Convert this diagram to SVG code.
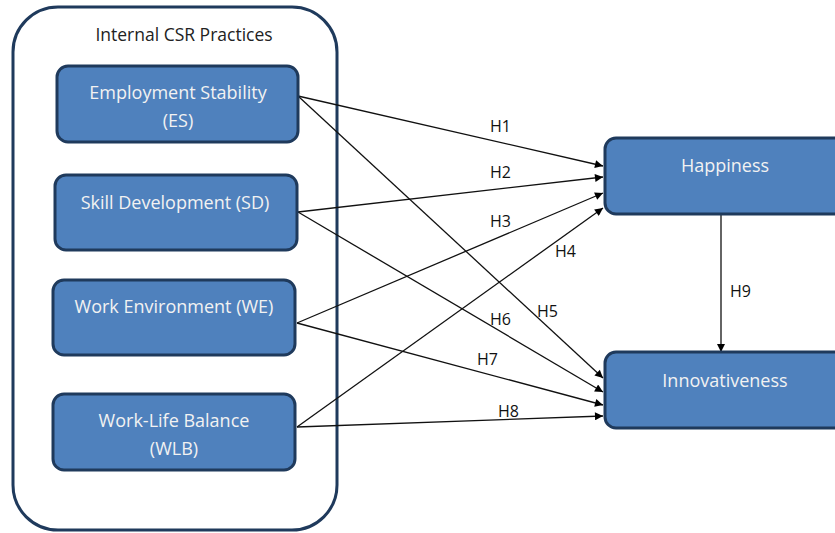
<svg xmlns="http://www.w3.org/2000/svg" width="835" height="533" viewBox="0 0 835 533">
<style>
.box{fill:#4f81bd;stroke:#1f3a5c;stroke-width:3}
.nt{font-family:"Open Sans","Liberation Sans",sans-serif;font-size:18px;fill:#f2f2f2;text-anchor:middle}
.lbl{font-family:"Open Sans","Liberation Sans",sans-serif;font-size:16px;fill:#111}
.edge{stroke:#111;stroke-width:1.3;fill:none;marker-end:url(#arr)}
</style>
<defs>
<marker id="arr" viewBox="0 0 10 10" refX="10" refY="5" markerWidth="10" markerHeight="8" markerUnits="userSpaceOnUse" orient="auto">
<path d="M0,0 L10,5 L0,10 z" fill="#000"/>
</marker>
</defs>
<rect width="835" height="533" fill="#fff"/>
<g id="container">
<rect x="13" y="7" width="324" height="523" rx="45" ry="45" fill="#fff" stroke="#1f3a5c" stroke-width="3"/>
<text x="184" y="41" font-family="Open Sans, Liberation Sans, sans-serif" font-size="17.5" fill="#222" text-anchor="middle">Internal CSR Practices</text>
</g>
<g id="connectors">
<line class="edge" x1="298" y1="96" x2="603" y2="166"/>
<line class="edge" x1="298" y1="96" x2="603" y2="378"/>
<line class="edge" x1="298" y1="212" x2="603" y2="177"/>
<line class="edge" x1="298" y1="212" x2="603" y2="392"/>
<line class="edge" x1="297" y1="323" x2="603" y2="193"/>
<line class="edge" x1="297" y1="323" x2="603" y2="405"/>
<line class="edge" x1="297" y1="427" x2="603" y2="208"/>
<line class="edge" x1="297" y1="427" x2="603" y2="416"/>
<line class="edge" x1="721" y1="214" x2="721" y2="352"/>
<text class="lbl" x="490" y="132">H1</text>
<text class="lbl" x="490" y="178">H2</text>
<text class="lbl" x="490" y="227">H3</text>
<text class="lbl" x="555" y="257">H4</text>
<text class="lbl" x="537" y="317">H5</text>
<text class="lbl" x="490" y="325">H6</text>
<text class="lbl" x="477" y="365">H7</text>
<text class="lbl" x="498" y="417">H8</text>
<text class="lbl" x="730" y="297">H9</text>
</g>
<g id="es">
<rect class="box" x="57" y="66" width="241" height="76" rx="11"/>
<text class="nt" x="178" y="99">Employment Stability</text>
<text class="nt" x="178" y="127">(ES)</text>
</g>
<g id="sd">
<rect class="box" x="55" y="175" width="242" height="75" rx="11"/>
<text class="nt" x="175" y="209">Skill Development (SD)</text>
</g>
<g id="we">
<rect class="box" x="53" y="280" width="242" height="75" rx="11"/>
<text class="nt" x="174" y="313">Work Environment (WE)</text>
</g>
<g id="wlb">
<rect class="box" x="53" y="394" width="242" height="76" rx="11"/>
<text class="nt" x="174" y="427">Work-Life Balance</text>
<text class="nt" x="174" y="455">(WLB)</text>
</g>
<g id="happiness">
<rect class="box" x="605" y="138" width="240" height="76" rx="11"/>
<text class="nt" x="725" y="172">Happiness</text>
</g>
<g id="innovativeness">
<rect class="box" x="605" y="352" width="240" height="76" rx="11"/>
<text class="nt" x="725" y="387">Innovativeness</text>
</g>
</svg>
